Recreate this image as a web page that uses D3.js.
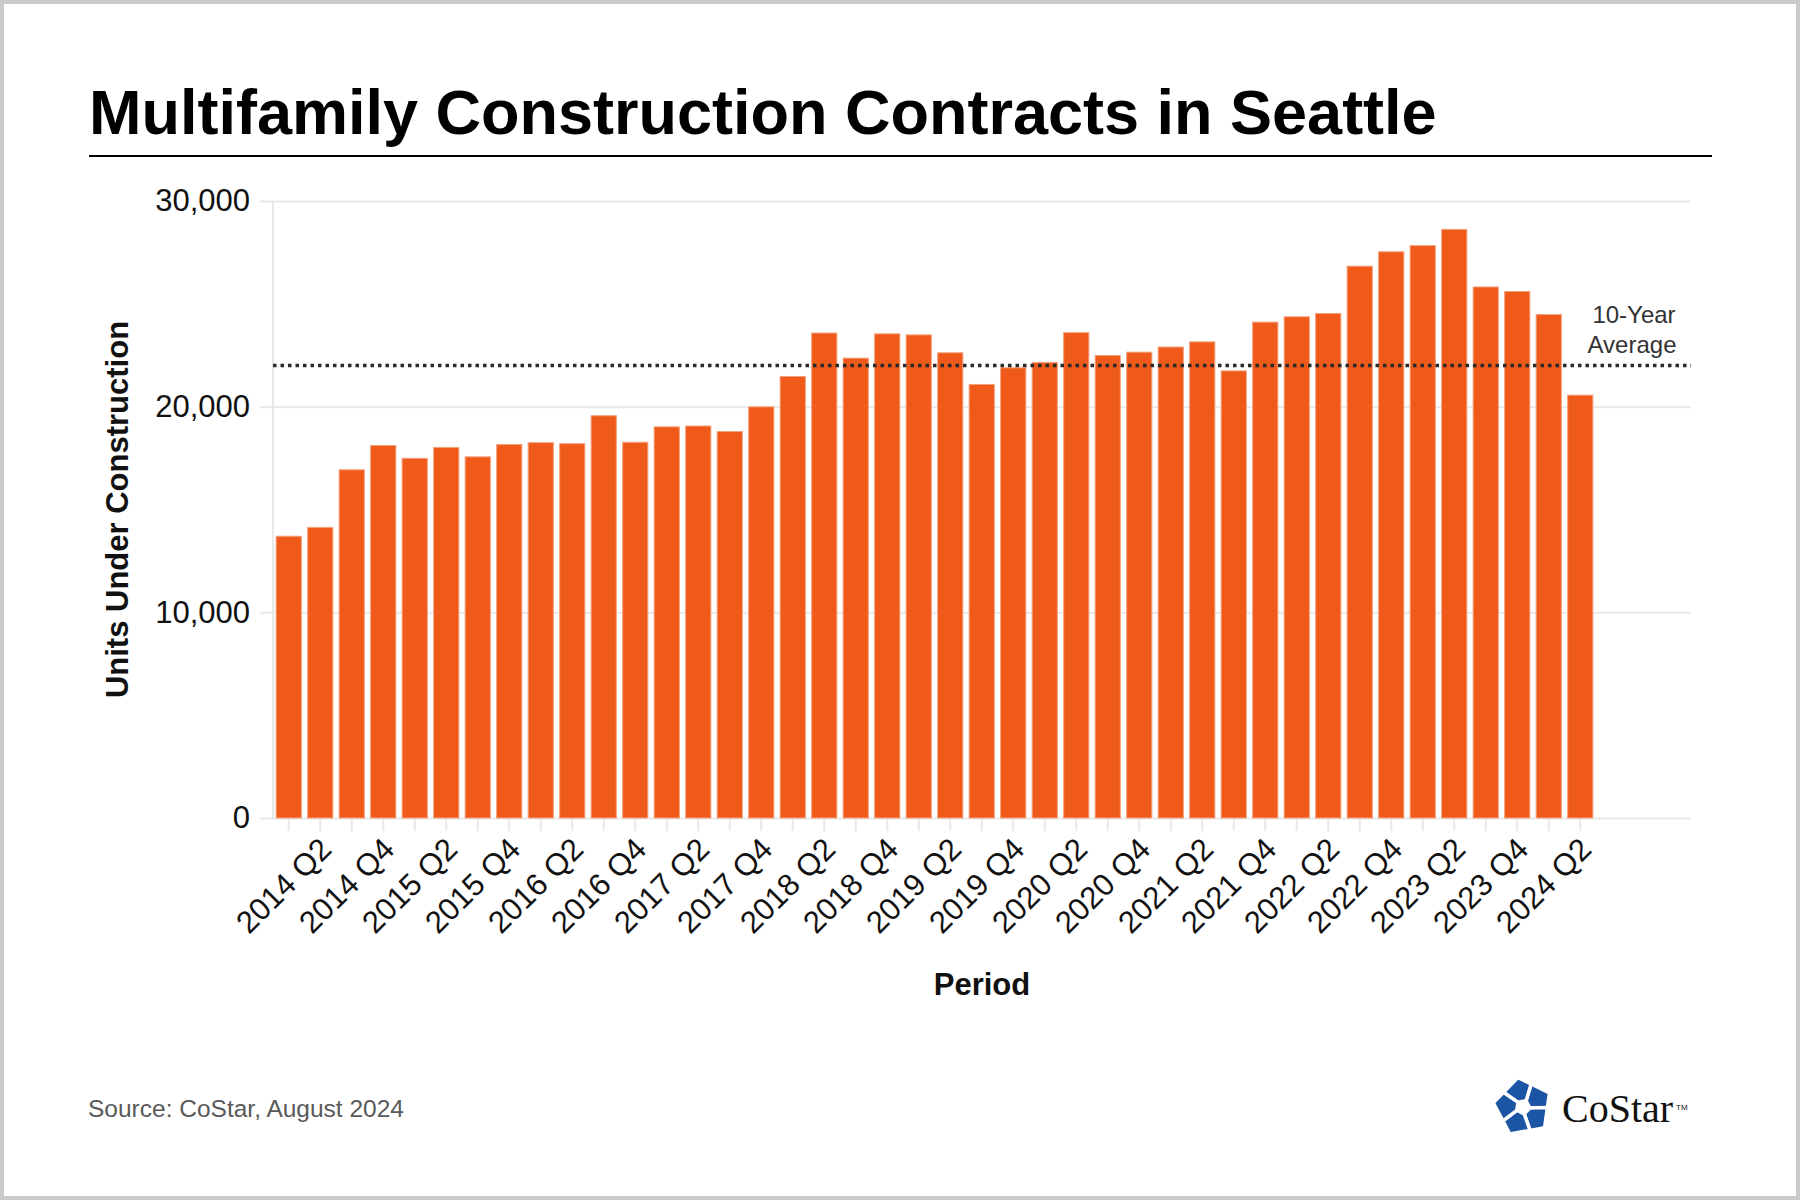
<!DOCTYPE html>
<html lang="en">
<head>
<meta charset="utf-8">
<title>Multifamily Construction Contracts in Seattle</title>
<script src="https://d3js.org/d3.v7.min.js"></script>
<style>
    html, body {
        margin: 0;
        padding: 0;
        background: #fff;
    }
    text {
        font-family: "Liberation Sans", Arial, sans-serif;
        fill: #111;
    }
    .axis path { display: none; }
    .axis.y line { stroke: #e9e9e9; stroke-width: 2px; }
    .axis.x line { stroke: #e9e9e9; stroke-width: 2px; }
    .axis text { font-size: 31px; fill: #111; }
    rect.bar { fill: #ef5a1b; stroke: #f6a07c; stroke-width: 1px; }
    .avg { stroke: #2a2a2a; stroke-width: 3.5px; stroke-dasharray: 3.5,4; fill: none; }
</style>
</head>
<body>
<script>
// data
var periods = [
    "2014 Q1", "2014 Q2", "2014 Q3", "2014 Q4",
    "2015 Q1", "2015 Q2", "2015 Q3", "2015 Q4",
    "2016 Q1", "2016 Q2", "2016 Q3", "2016 Q4",
    "2017 Q1", "2017 Q2", "2017 Q3", "2017 Q4",
    "2018 Q1", "2018 Q2", "2018 Q3", "2018 Q4",
    "2019 Q1", "2019 Q2", "2019 Q3", "2019 Q4",
    "2020 Q1", "2020 Q2", "2020 Q3", "2020 Q4",
    "2021 Q1", "2021 Q2", "2021 Q3", "2021 Q4",
    "2022 Q1", "2022 Q2", "2022 Q3", "2022 Q4",
    "2023 Q1", "2023 Q2", "2023 Q3", "2023 Q4",
    "2024 Q1", "2024 Q2"
];
var units = [
    13700, 14130, 16930, 18110,
    17490, 18020, 17560, 18160,
    18250, 18200, 19560, 18270,
    19020, 19060, 18790, 19990,
    21470, 23580, 22360, 23540,
    23490, 22620, 21080, 21890,
    22150, 23600, 22490, 22650,
    22900, 23150, 21740, 24110,
    24370, 24530, 26830, 27530,
    27830, 28620, 25820, 25600,
    24480, 20560
];
var tickLabels = [
    "2014 Q2", "2014 Q4", "2015 Q2", "2015 Q4", "2016 Q2", "2016 Q4",
    "2017 Q2", "2017 Q4", "2018 Q2", "2018 Q4", "2019 Q2", "2019 Q4",
    "2020 Q2", "2020 Q4", "2021 Q2", "2021 Q4", "2022 Q2", "2022 Q4",
    "2023 Q2", "2023 Q4", "2024 Q2"
];
var yTicks = [0, 10000, 20000, 30000];
var avgUnits = 22000;

var W = 1800, H = 1200;
var gridLeft = 260, axisX = 273, plotRight = 1691;
var plotTop = 201, plotBottom = 818;

var svg = d3.select("body").append("svg")
    .attr("width", W).attr("height", H);

svg.append("rect")
    .attr("x", 0).attr("y", 0).attr("width", W).attr("height", H)
    .attr("fill", "#fff");
svg.append("rect")
    .attr("x", 2).attr("y", 2).attr("width", W - 4).attr("height", H - 4)
    .attr("fill", "none").attr("stroke", "#c9c9c9").attr("stroke-width", 4);

// title
svg.append("text")
    .attr("x", 89).attr("y", 134)
    .style("font-size", "63px").style("font-weight", "bold").style("fill", "#000")
    .text("Multifamily Construction Contracts in Seattle");
svg.append("line")
    .attr("x1", 89).attr("x2", 1712).attr("y1", 156).attr("y2", 156)
    .attr("stroke", "#000").attr("stroke-width", 2);

var x = d3.scaleBand()
    .domain(periods)
    .range([axisX, 1596])
    .paddingInner(0.2)
    .paddingOuter(0.1);
var y = d3.scaleLinear()
    .domain([0, 30000])
    .range([plotBottom, plotTop]);

// y axis + gridlines
var yAxis = d3.axisLeft(y)
    .tickValues(yTicks)
    .tickSize(-(plotRight - gridLeft))
    .tickPadding(10)
    .tickFormat(d3.format(","));
svg.append("g")
    .attr("class", "axis y")
    .attr("transform", "translate(" + gridLeft + ",0)")
    .call(yAxis);
svg.append("line")
    .attr("x1", axisX).attr("x2", axisX).attr("y1", plotTop).attr("y2", plotBottom)
    .attr("stroke", "#e9e9e9").attr("stroke-width", 2);

// x axis
var xAxis = d3.axisBottom(x)
    .tickSize(13)
    .tickFormat(function(d) { return tickLabels.indexOf(d) >= 0 ? d : ""; });
var gx = svg.append("g")
    .attr("class", "axis x")
    .attr("transform", "translate(0," + plotBottom + ")")
    .call(xAxis);
gx.selectAll("text")
    .attr("y", 0).attr("dy", "0.5em")
    .attr("transform", "translate(2,22) rotate(-45)")
    .style("text-anchor", "end");

// bars
svg.append("g").selectAll("rect")
    .data(units)
    .enter().append("rect")
    .attr("class", "bar")
    .attr("x", function(d, i) { return x(periods[i]); })
    .attr("width", x.bandwidth())
    .attr("y", function(d) { return y(d); })
    .attr("height", function(d) { return y(0) - y(d); });

// 10-year average
svg.append("line")
    .attr("class", "avg")
    .attr("x1", axisX).attr("x2", plotRight)
    .attr("y1", y(avgUnits)).attr("y2", y(avgUnits));
var note = svg.append("text")
    .style("font-size", "24px").style("fill", "#333").style("text-anchor", "middle");
note.append("tspan").attr("x", 1634).attr("y", 323).text("10-Year");
note.append("tspan").attr("x", 1632).attr("y", 353).text("Average");

// axis titles
svg.append("text")
    .attr("transform", "translate(128," + ((plotTop + plotBottom) / 2) + ") rotate(-90)")
    .style("font-size", "31px").style("font-weight", "bold").style("text-anchor", "middle")
    .text("Units Under Construction");
svg.append("text")
    .attr("x", (axisX + plotRight) / 2).attr("y", 995)
    .style("font-size", "31px").style("font-weight", "bold").style("text-anchor", "middle")
    .text("Period");

// source
svg.append("text")
    .attr("x", 88).attr("y", 1117)
    .style("font-size", "24.5px").style("fill", "#595959")
    .text("Source: CoStar, August 2024");

// logo
var logo = svg.append("g").attr("transform", "translate(1523,1107)");
var R = 30, r = 7;
var V = [], E = [], C = [];
for (var k = 0; k < 5; k++) {
    var a = (-90 + 72 * k - 10) * Math.PI / 180;
    V.push([R * Math.cos(a), R * Math.sin(a)]);
    var b = (-90 + 72 * k + 26) * Math.PI / 180;
    C.push([r * Math.cos(b), r * Math.sin(b)]);
}
for (var k = 0; k < 5; k++) {
    var v0 = V[k], v1 = V[(k + 1) % 5];
    E.push([v0[0] + 0.42 * (v1[0] - v0[0]), v0[1] + 0.42 * (v1[1] - v0[1])]);
}
for (var k = 0; k < 5; k++) {
    var n = (k + 1) % 5;
    var pts = [C[k], E[k], V[n], E[n], C[n]];
    logo.append("path")
        .attr("d", "M" + pts.map(function(p) { return p[0].toFixed(1) + "," + p[1].toFixed(1); }).join("L") + "Z")
        .attr("fill", "#1b55a3").attr("stroke", "#fff").attr("stroke-width", 3.5)
        .attr("stroke-linejoin", "round");
}
svg.append("text")
    .attr("x", 1562).attr("y", 1122)
    .style("font-family", "'Liberation Serif', 'Times New Roman', serif")
    .style("font-size", "40px").style("fill", "#111")
    .text("CoStar");
svg.append("text")
    .attr("x", 1676).attr("y", 1110)
    .style("font-size", "8px").style("fill", "#111")
    .text("TM");
</script>
</body>
</html>
